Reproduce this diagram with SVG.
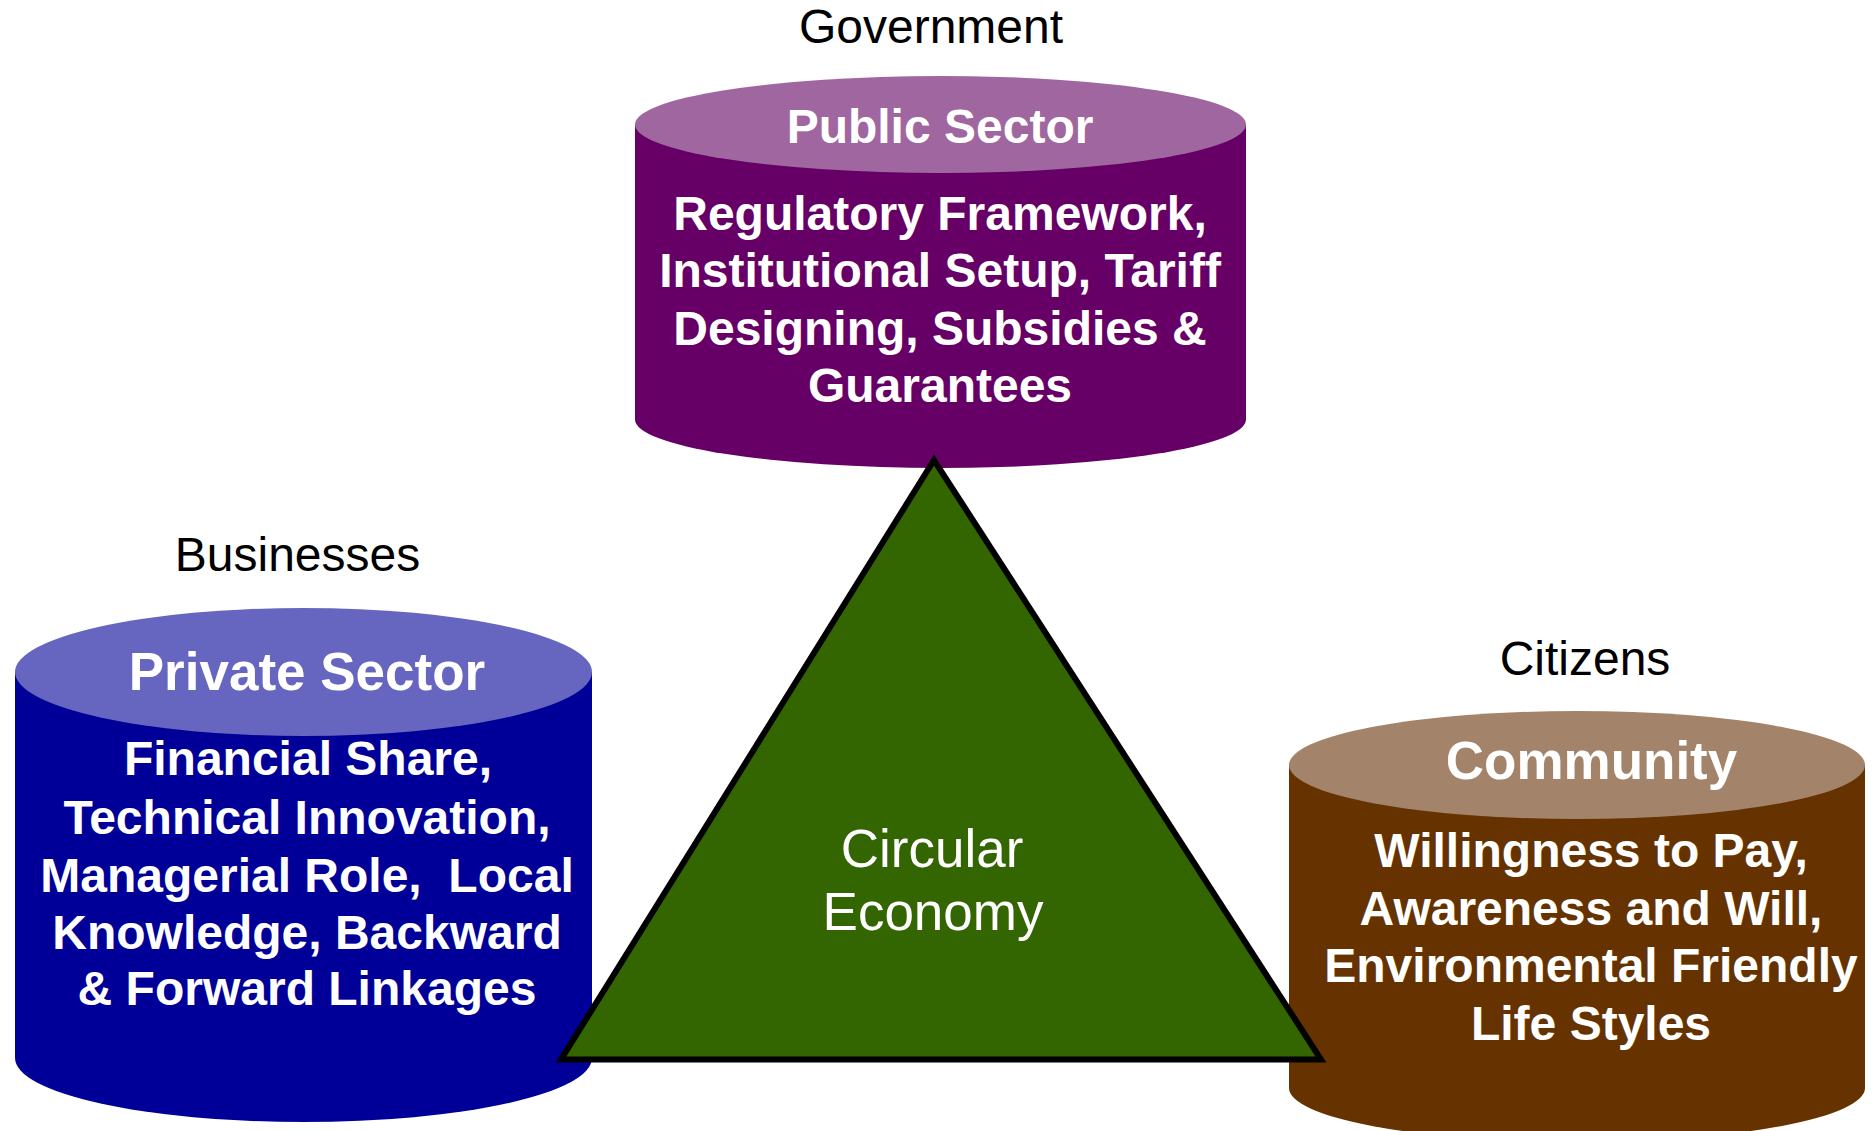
<svg xmlns="http://www.w3.org/2000/svg" width="1873" height="1131" viewBox="0 0 1873 1131">
<style>
text{font-family:"Liberation Sans",Arial,sans-serif;text-anchor:middle}
.lbl{font-size:48px;fill:#000}
.ttl{font-weight:bold;fill:#fff}
.body{font-size:48px;font-weight:bold;fill:#fff;white-space:pre}
.ce{font-size:53px;fill:#fff}
</style>
<rect width="1873" height="1131" fill="#fff"/>
<g id="public-sector">
<path d="M635,124.5 L635,419.5 A305.5,48.5 0 0 0 1246,419.5 L1246,124.5 Z" fill="#660066"/>
<ellipse cx="940.5" cy="124.5" rx="305.5" ry="48.5" fill="#A066A0"/>
<text class="lbl" x="931" y="43">Government</text>
<text class="ttl" x="940" y="143" font-size="48">Public Sector</text>
<text class="body" x="940" y="230">Regulatory Framework,</text>
<text class="body" x="940" y="287">Institutional Setup, Tariff</text>
<text class="body" x="940" y="345">Designing, Subsidies &amp;</text>
<text class="body" x="940" y="402">Guarantees</text>
</g>
<g id="private-sector">
<path d="M15,672 L15,1058 A288.5,64 0 0 0 592,1058 L592,672 Z" fill="#000099"/>
<ellipse cx="303.5" cy="672" rx="288.5" ry="64" fill="#6666C0"/>
<text class="lbl" x="297.5" y="571">Businesses</text>
<text class="ttl" x="307" y="689.5" font-size="53">Private Sector</text>
<text class="body" x="308" y="775">Financial Share,</text>
<text class="body" x="307" y="834">Technical Innovation,</text>
<text class="body" x="307" y="892" xml:space="preserve">Managerial Role,  Local</text>
<text class="body" x="307" y="949">Knowledge, Backward</text>
<text class="body" x="307" y="1005">&amp; Forward Linkages</text>
</g>
<g id="community">
<path d="M1289,765 L1289,1088 A288,54 0 0 0 1865,1088 L1865,765 Z" fill="#663300"/>
<ellipse cx="1577" cy="765" rx="288" ry="54" fill="#A3836A"/>
<text class="lbl" x="1585" y="675">Citizens</text>
<text class="ttl" x="1591.5" y="779" font-size="53">Community</text>
<text class="body" x="1591" y="867">Willingness to Pay,</text>
<text class="body" x="1591" y="925">Awareness and Will,</text>
<text class="body" x="1591" y="982">Environmental Friendly</text>
<text class="body" x="1591" y="1040">Life Styles</text>
</g>
<g id="circular-economy">
<polygon points="934,460 561,1059.5 1321,1059.5" fill="#336600" stroke="#000" stroke-width="6" stroke-linejoin="miter"/>
<text class="ce" x="932" y="866.5">Circular</text>
<text class="ce" x="933" y="930">Economy</text>
</g>
<g id="connectors"/>
</svg>
